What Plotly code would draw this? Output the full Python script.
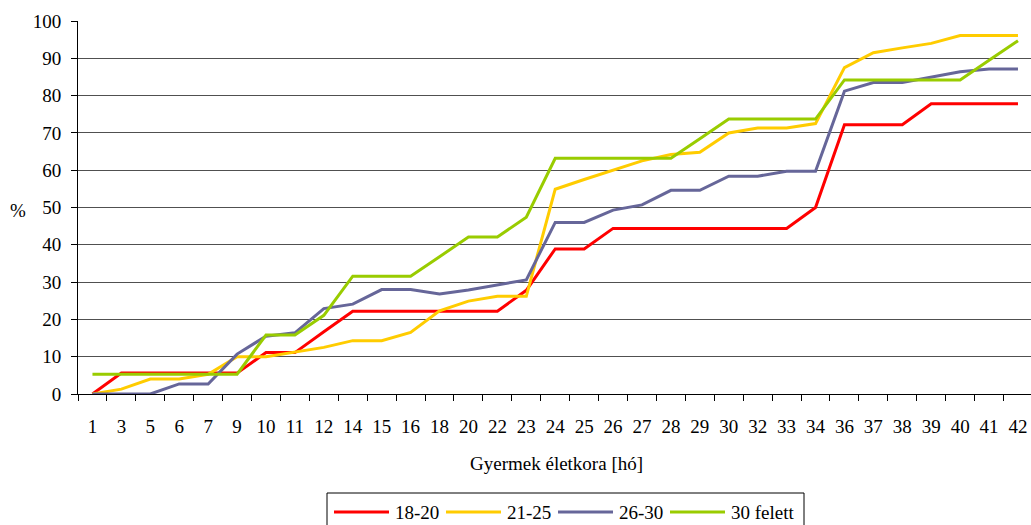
import plotly.graph_objects as go

months = ["1", "3", "5", "6", "7", "9", "10", "11", "12", "14", "15", "16", "18", "20", "22", "23",
          "24", "25", "26", "27", "28", "29", "30", "32", "33", "34", "36", "37", "38", "39", "40", "41", "42"]

s_18_20 = [0, 5.6, 5.6, 5.6, 5.6, 5.6, 11.1, 11.1, 16.7, 22.2, 22.2, 22.2, 22.2, 22.2, 22.2, 27.8,
           38.9, 38.9, 44.4, 44.4, 44.4, 44.4, 44.4, 44.4, 44.4, 50.0, 72.2, 72.2, 72.2, 77.8, 77.8, 77.8, 77.8]
s_21_25 = [0, 1.3, 4.0, 4.0, 5.3, 10.0, 10.0, 11.3, 12.5, 14.3, 14.3, 16.5, 22.3, 24.9, 26.2, 26.2,
           54.9, 57.5, 60.0, 62.5, 64.2, 64.8, 70.0, 71.3, 71.3, 72.5, 87.5, 91.5, 92.8, 94.0, 96.1, 96.1, 96.1]
s_26_30 = [0, 0, 0, 2.7, 2.7, 10.7, 15.5, 16.4, 22.9, 24.1, 28.0, 28.0, 26.8, 27.9, 29.2, 30.6,
           46.0, 46.0, 49.3, 50.7, 54.6, 54.6, 58.4, 58.4, 59.7, 59.7, 81.2, 83.5, 83.5, 85.0, 86.4, 87.1, 87.1]
s_30_felett = [5.3, 5.3, 5.3, 5.3, 5.3, 5.3, 15.8, 15.8, 21.1, 31.6, 31.6, 31.6, 36.8, 42.1, 42.1, 47.4,
               63.2, 63.2, 63.2, 63.2, 63.2, 68.4, 73.7, 73.7, 73.7, 73.7, 84.2, 84.2, 84.2, 84.2, 84.2, 89.5, 94.7]

series = [
    ("18-20", s_18_20, "#FF0000"),
    ("21-25", s_21_25, "#FFCC00"),
    ("26-30", s_26_30, "#666699"),
    ("30 felett", s_30_felett, "#99CC00"),
]

serif = "Liberation Serif, Times New Roman, serif"
FS = 19

W, H = 1031, 525
L, R, T, B = 78, 0, 21, 131
pw, ph = W - L - R, H - T - B


def px_x(p):
    return (p - L) / pw


def px_y(p):
    return (H - B - p) / ph


fig = go.Figure()
for name, vals, color in series:
    fig.add_trace(go.Scatter(x=months, y=vals, mode="lines", name=name,
                             line=dict(color=color, width=3), showlegend=False))

shapes = []
annotations = [
    dict(text="%", xref="paper", yref="paper", x=px_x(18), y=px_y(210), xanchor="center",
         yanchor="middle", showarrow=False, font=dict(family=serif, size=FS)),
    dict(text="Gyermek életkora [hó]", xref="paper", yref="paper", x=px_x(556), y=px_y(464),
         xanchor="center", yanchor="middle", showarrow=False, font=dict(family=serif, size=FS)),
]

# custom legend box
shapes.append(dict(type="rect", xref="paper", yref="paper", x0=px_x(327), x1=px_x(804),
                   y0=px_y(493), y1=px_y(540), line=dict(color="black", width=1),
                   fillcolor="rgba(0,0,0,0)", layer="above"))
for i, (name, vals, color) in enumerate(series):
    x0 = 334 + 112 * i
    shapes.append(dict(type="line", xref="paper", yref="paper", x0=px_x(x0), x1=px_x(x0 + 55),
                       y0=px_y(512), y1=px_y(512), line=dict(color=color, width=3)))
    annotations.append(dict(text=name, xref="paper", yref="paper", x=px_x(x0 + 59), y=px_y(512),
                            xanchor="left", yanchor="middle", showarrow=False,
                            font=dict(family=serif, size=FS)))

fig.update_layout(
    width=W, height=H,
    margin=dict(l=L, r=R, t=T, b=B),
    paper_bgcolor="white", plot_bgcolor="white",
    font=dict(family=serif, size=FS, color="black"),
    showlegend=False,
    xaxis=dict(type="category", showline=True, linecolor="black", linewidth=1,
               ticks="outside", tickson="boundaries", ticklen=6, tickcolor="black",
               showgrid=False, tickfont=dict(family=serif, size=FS), ticklabelstandoff=15,
               range=[-0.5, 32.45], automargin=False),
    yaxis=dict(range=[0, 100], dtick=10, showline=True, linecolor="black", linewidth=1,
               ticks="outside", ticklen=6, tickcolor="black",
               showgrid=True, gridcolor="#505050", gridwidth=1,
               zeroline=False, tickfont=dict(family=serif, size=FS), ticklabelstandoff=6,
               automargin=False),
    shapes=shapes,
    annotations=annotations,
)

fig.write_html("out.html", config={"displayModeBar": False},
               post_script="document.body.style.margin='0';document.body.style.overflow='hidden';")
